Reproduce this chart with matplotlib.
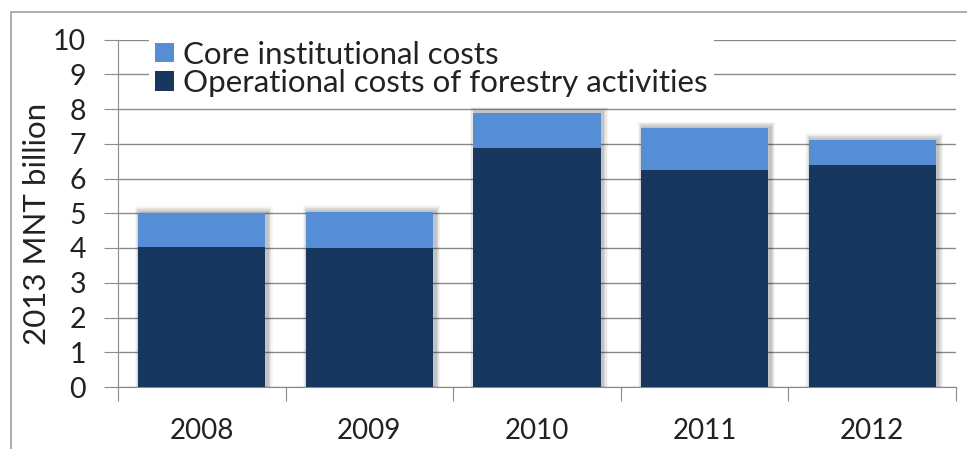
"""Stacked bars: forestry costs 2008-2012, 2013 MNT billion."""
import matplotlib

matplotlib.use("Agg")
import matplotlib.pyplot as plt  # noqa: E402
import numpy as np  # noqa: E402
from matplotlib.patches import Rectangle  # noqa: E402

years = ["2008", "2009", "2010", "2011", "2012"]
operational = [4.03, 4.00, 6.89, 6.25, 6.40]
core = [0.99, 1.05, 1.00, 1.21, 0.72]
yticks = list(range(0, 11))

DARK = "#17375E"
LIGHT = "#558ED5"
GRID = "#8A8A8A"

plt.rcParams["font.family"] = ["Lato", "DejaVu Sans"]

fig = plt.figure(figsize=(9.67, 4.49), dpi=100)
ax = fig.add_axes([118 / 967, 1 - 387 / 449, (956 - 118) / 967, (387 - 39.5) / 449])

# outer chart frame
fig.add_artist(Rectangle((11 / 967, -0.05), 1.1, 1 - 12 / 449 + 0.05,
                         transform=fig.transFigure, fill=False,
                         edgecolor="#A0A0A0", lw=1.2))

x = np.arange(len(years))
w = 0.76
tot = np.array(operational) + np.array(core)

# soft shadow behind the bars
for k, a in enumerate([0.04, 0.05, 0.07, 0.09]):
    grow = 0.06 - k * 0.014
    ax.bar(x + 0.012, tot + grow * 3, width=w + grow, bottom=0,
           color="black", alpha=a, zorder=2, linewidth=0)

ax.bar(x, operational, width=w, color=DARK, zorder=3,
       label="Operational costs of forestry activities")
ax.bar(x, core, width=w, bottom=operational, color=LIGHT, zorder=3,
       label="Core institutional costs")

ax.set_ylim(0, 10)
ax.set_xlim(-0.5, len(years) - 0.5)
ax.set_yticks(yticks)
ax.yaxis.grid(True, color=GRID, lw=1)
ax.set_axisbelow(True)

ax.set_xticks(np.arange(-0.5, len(years)))
ax.set_xticklabels([])
ax.set_xticks(x, minor=True)
ax.set_xticklabels(years, minor=True)
ax.tick_params(axis="x", which="major", length=10, color=GRID, direction="out")
ax.tick_params(axis="x", which="minor", length=0, pad=22, labelsize=20,
               labelcolor="#222222")
ax.tick_params(axis="y", length=10, color=GRID, pad=13, labelsize=20.5,
               labelcolor="#222222")

for s in ["top", "right"]:
    ax.spines[s].set_visible(False)
for s in ["left", "bottom"]:
    ax.spines[s].set_color(GRID)

ax.set_ylabel("2013 MNT billion", fontsize=22.5, color="#222222")
ax.yaxis.set_label_coords((51 - 118) / 838, (387 - 224) / 347.5)

h, l = ax.get_legend_handles_labels()
leg = ax.legend(h[::-1], l[::-1], loc="upper left", bbox_to_anchor=(0.018, 1.06),
                fontsize=22.5, frameon=True, framealpha=1, edgecolor="none",
                handlelength=0.6, handleheight=0.6, handletextpad=0.3,
                labelspacing=0.02, borderpad=0.2, labelcolor="#222222")
leg.get_frame().set_facecolor("white")
leg.set_zorder(5)

fig.savefig("out.png", dpi=100)
